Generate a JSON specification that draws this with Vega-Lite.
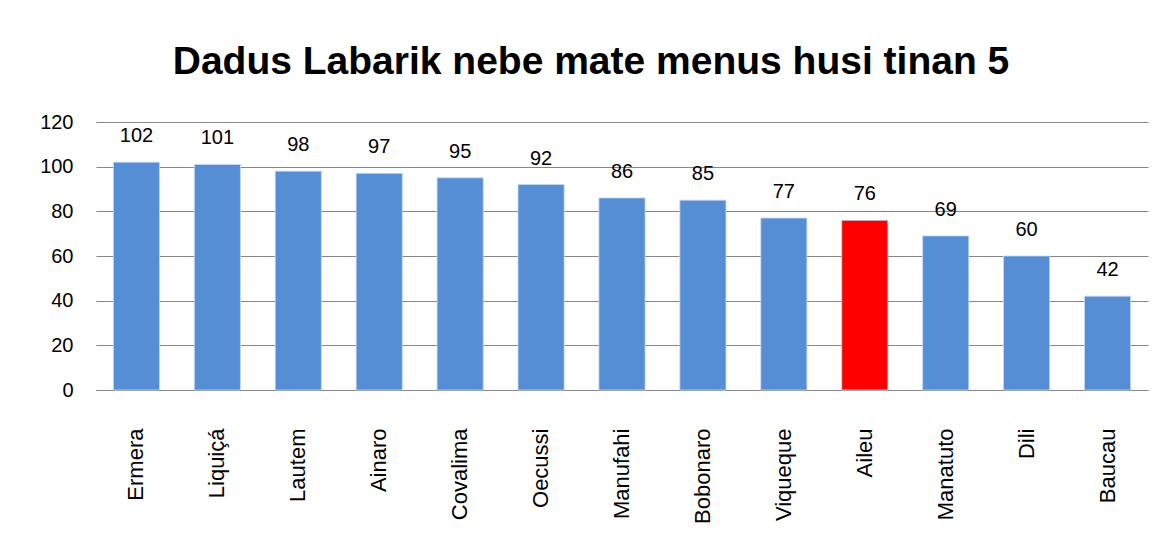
{
  "$schema": "https://vega.github.io/schema/vega-lite/v6.json",
  "width": 1052,
  "height": 268,
  "autosize": {"type": "none"},
  "padding": {"left": 96, "top": 122, "right": 16, "bottom": 169},
  "background": "white",
  "title": {
    "text": "Dadus Labarik nebe mate menus husi tinan 5",
    "fontSize": 39,
    "font": "Liberation Sans",
    "fontWeight": "bold",
    "color": "#000000",
    "anchor": "middle",
    "dx": -31,
    "offset": 30
  },
  "data": {
    "values": [
      {"district": "Ermera", "value": 102, "highlight": "no"},
      {"district": "Liquiçá", "value": 101, "highlight": "no"},
      {"district": "Lautem", "value": 98, "highlight": "no"},
      {"district": "Ainaro", "value": 97, "highlight": "no"},
      {"district": "Covalima", "value": 95, "highlight": "no"},
      {"district": "Oecussi", "value": 92, "highlight": "no"},
      {"district": "Manufahi", "value": 86, "highlight": "no"},
      {"district": "Bobonaro", "value": 85, "highlight": "no"},
      {"district": "Viqueque", "value": 77, "highlight": "no"},
      {"district": "Aileu", "value": 76, "highlight": "yes"},
      {"district": "Manatuto", "value": 69, "highlight": "no"},
      {"district": "Dili", "value": 60, "highlight": "no"},
      {"district": "Baucau", "value": 42, "highlight": "no"}
    ]
  },
  "encoding": {
    "x": {
      "field": "district",
      "type": "nominal",
      "sort": null,
      "scale": {"paddingInner": 0.43, "paddingOuter": 0.215},
      "axis": {
        "title": null,
        "labelAngle": -90,
        "labelFontSize": 22,
        "labelFont": "Liberation Sans",
        "labelColor": "#000000",
        "labelPadding": 38,
        "ticks": false,
        "domain": true,
        "domainColor": "#868686",
        "domainWidth": 1
      }
    },
    "y": {
      "field": "value",
      "type": "quantitative",
      "scale": {"domain": [0, 120]},
      "axis": {
        "title": null,
        "values": [0, 20, 40, 60, 80, 100, 120],
        "labelFontSize": 20,
        "labelFont": "Liberation Sans",
        "labelColor": "#000000",
        "labelPadding": 23,
        "ticks": false,
        "domain": false,
        "grid": true,
        "gridColor": "#868686",
        "gridWidth": 1
      }
    }
  },
  "layer": [
    {
      "mark": {"type": "bar", "stroke": "#c6d9f1", "strokeWidth": 0.8},
      "encoding": {
        "color": {
          "field": "highlight",
          "type": "nominal",
          "scale": {"domain": ["no", "yes"], "range": ["#558ed5", "#ff0000"]},
          "legend": null
        }
      }
    },
    {
      "mark": {"type": "text", "baseline": "bottom", "dy": -16, "fontSize": 20, "font": "Liberation Sans", "color": "#000000"},
      "encoding": {"text": {"field": "value", "type": "quantitative"}}
    }
  ],
  "config": {"view": {"stroke": null}}
}
